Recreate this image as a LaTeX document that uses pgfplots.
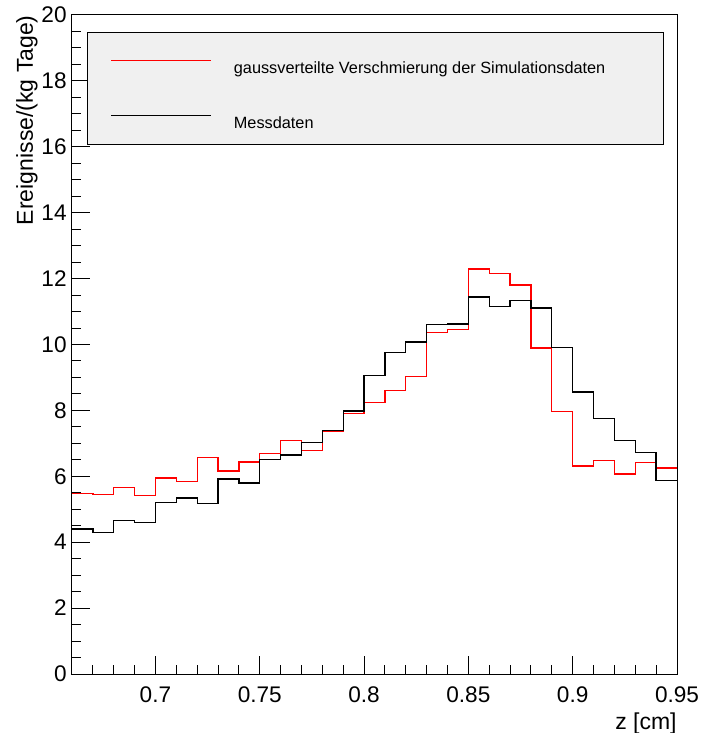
\documentclass[border=0pt]{standalone}
\usepackage{fontspec}
\setmainfont{Liberation Sans}
\usepackage{pgfplots}
\pgfplotsset{compat=1.18}
\definecolor{legbg}{HTML}{F0F0F0}
\begin{document}
\begin{tikzpicture}
\begin{axis}[
  name=ax,
  scale only axis, width=302.5pt, height=329.5pt,
  xmin=0.66, xmax=0.95, ymin=0, ymax=20,
  axis line style={line width=0.5pt},
  tick align=inside, tick pos=left,
  major tick length=9pt, minor tick length=4.5pt,
  tick style={black, line width=0.5pt},
  xtick={0.7,0.75,0.8,0.85,0.9,0.95},
  xticklabels={0.7,0.75,0.8,0.85,0.9,0.95},
  minor xtick={0.67,0.68,0.69,0.71,0.72,0.73,0.74,0.76,0.77,0.78,0.79,0.81,0.82,0.83,0.84,0.86,0.87,0.88,0.89,0.91,0.92,0.93,0.94},
  ytick={0,2,...,20},
  minor y tick num=3,
  /pgf/number format/assume math mode=true,
  ticklabel style={font=\fontsize{11.3}{13}\selectfont, inner sep=0pt},
  xticklabel style={anchor=north, yshift=-6pt},
  yticklabel style={anchor=east, xshift=-2.5pt},
  xlabel={z [cm]}, ylabel={Ereignisse/(kg Tage)},
  label style={font=\fontsize{11.5}{13}\selectfont, inner sep=0pt},
  xlabel style={at={(rel axis cs:1,-0.0577)}, anchor=north east},
  ylabel style={at={(rel axis cs:-0.0645,1)}, anchor=base east},
  legend style={at={(rel axis cs:0.02645,0.9737)}, anchor=north west,
    fill=none, draw=none,
    inner xsep=11pt, inner ysep=4pt, row sep=7.15pt, column sep=11pt,
    cells={anchor=base west},
    nodes={inner sep=0pt, text height=16.5pt, text depth=3.85pt, font=\fontsize{8.15}{10}\selectfont}},
  legend image code/.code={\draw[#1, line width=0.75pt] (0pt,6.5pt) -- (50pt,6.5pt);},
]
\draw[fill=legbg, draw=black, line width=0.5pt] (rel axis cs:0.02645,0.9737) rectangle (rel axis cs:0.9769,0.8042);
\addplot[red, line width=0.65pt, const plot mark left] coordinates {
(0.66,5.47) (0.67,5.45) (0.68,5.67) (0.69,5.42) (0.70,5.95) (0.71,5.84)
(0.72,6.56) (0.73,6.16) (0.74,6.43) (0.75,6.70) (0.76,7.08) (0.77,6.78)
(0.78,7.35) (0.79,7.90) (0.80,8.23) (0.81,8.61) (0.82,9.03) (0.83,10.37)
(0.84,10.46) (0.85,12.29) (0.86,12.15) (0.87,11.81) (0.88,9.89) (0.89,7.96)
(0.90,6.31) (0.91,6.49) (0.92,6.07) (0.93,6.41) (0.94,6.25) (0.95,6.25)};
\addlegendentry{\makebox[204.5pt][l]{gaussverteilte Verschmierung der Simulationsdaten}}
\addplot[black, line width=0.65pt, const plot mark left] coordinates {
(0.66,4.40) (0.67,4.29) (0.68,4.66) (0.69,4.59) (0.70,5.21) (0.71,5.34)
(0.72,5.18) (0.73,5.92) (0.74,5.80) (0.75,6.50) (0.76,6.65) (0.77,7.03)
(0.78,7.38) (0.79,7.98) (0.80,9.05) (0.81,9.76) (0.82,10.08) (0.83,10.61)
(0.84,10.62) (0.85,11.44) (0.86,11.15) (0.87,11.34) (0.88,11.11) (0.89,9.90)
(0.90,8.56) (0.91,7.76) (0.92,7.09) (0.93,6.73) (0.94,5.87) (0.95,5.87)};
\addlegendentry{\makebox[204.5pt][l]{Messdaten}}
\end{axis}
\pgfresetboundingbox
\path ([shift={(-36pt,-29.5pt)}]ax.south west) rectangle ([shift={(12.5pt,7.5pt)}]ax.north east);
\end{tikzpicture}
\end{document}
